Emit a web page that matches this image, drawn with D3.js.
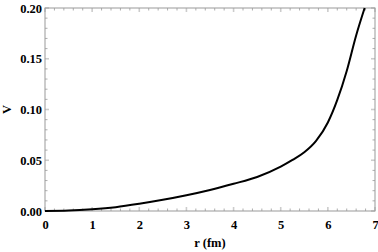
<!DOCTYPE html>
<html>
<head>
<meta charset="utf-8">
<script src="https://cdn.jsdelivr.net/npm/d3@7"></script>
<style>
  body { margin: 0; background: #fff; }
</style>
</head>
<body>
<div id="chart"></div>
<script>
// potential curve
var rValues = [0, 0.5, 1.0, 1.5, 2.0, 2.5, 3.0, 3.5, 4.0, 4.5, 5.0, 5.25, 5.5, 5.75, 6.0, 6.2, 6.4, 6.6, 6.78];
var vValues = [0, 0.0004, 0.0017, 0.0038, 0.0071, 0.0110, 0.0155, 0.0207, 0.0268, 0.0335, 0.0437, 0.0503, 0.0578, 0.0690, 0.0872, 0.1094, 0.1380, 0.1730, 0.2000];
var xTicks = [0, 1, 2, 3, 4, 5, 6, 7];
var yTicks = [0, 0.05, 0.10, 0.15, 0.20];

var FONT = "Liberation Serif";

var margin = { top: 8, right: 3, bottom: 41, left: 45 },
    width = 378 - margin.left - margin.right,
    height = 252 - margin.top - margin.bottom;

var x = d3.scaleLinear().domain([0, 7]).range([0, width]);
var y = d3.scaleLinear().domain([0, 0.20]).range([height, 0]);

var svg = d3.select("#chart").append("svg")
    .attr("width", 378)
    .attr("height", 252)
    .append("g")
    .attr("transform", "translate(" + margin.left + "," + margin.top + ")");

var data = rValues.map(function (r, i) { return { r: r, v: vValues[i] }; });

// minor ticks (every 0.2 on x, 0.01 on y), on all four sides
var xMinor = d3.range(0, 35).map(function (i) { return i * 0.2; }).filter(function (d) { return Math.abs(d - Math.round(d)) > 1e-6; });
var yMinor = d3.range(0, 20).map(function (i) { return i * 0.01; }).filter(function (d) { return Math.abs(d / 0.05 - Math.round(d / 0.05)) > 1e-6; });

function tickSet(cls, vals, isX, len, color, w) {
    var g = svg.append("g").attr("class", cls);
    [0, 1].forEach(function (side) {
        g.selectAll(".s" + side)
            .data(vals)
            .enter().append("line")
            .attr("x1", function (d) { return isX ? x(d) : (side ? width : 0); })
            .attr("x2", function (d) { return isX ? x(d) : (side ? width - len : len); })
            .attr("y1", function (d) { return isX ? (side ? 0 : height) : y(d); })
            .attr("y2", function (d) { return isX ? (side ? len : height - len) : y(d); })
            .style("stroke", color)
            .style("stroke-width", w);
    });
}

tickSet("xminor", xMinor, true, 2.5, "#999", 0.8);
tickSet("yminor", yMinor, false, 2.5, "#999", 0.8);
tickSet("xmajor", xTicks, true, 4, "#ccc", 1.6);
tickSet("ymajor", yTicks, false, 4, "#ccc", 1.6);

// frame
svg.append("rect")
    .attr("width", width)
    .attr("height", height)
    .style("fill", "none")
    .style("stroke", "#999")
    .style("stroke-width", 1);

// tick labels via axes, with the tick lines hidden
var xAxis = svg.append("g")
    .attr("transform", "translate(0," + height + ")")
    .call(d3.axisBottom(x).tickValues(xTicks).tickFormat(d3.format("d")).tickSize(0).tickPadding(9));
var yAxis = svg.append("g")
    .call(d3.axisLeft(y).tickValues(yTicks).tickFormat(d3.format(".2f")).tickSize(0).tickPadding(3));
[xAxis, yAxis].forEach(function (a) {
    a.attr("font-family", FONT).attr("font-size", 12.5).attr("font-weight", "bold");
    a.select(".domain").remove();
    a.selectAll("text")
        .attr("font-family", FONT)
        .attr("font-weight", "bold")
        .attr("font-size", 12.5)
        .attr("fill", "#000");
});

// clip the curve to the frame
svg.append("clipPath").attr("id", "clip")
    .append("rect").attr("width", width).attr("height", height + 2).attr("y", -1);

var valueline = d3.line()
    .x(function (d) { return x(d.r); })
    .y(function (d) { return y(d.v); })
    .curve(d3.curveMonotoneX);

svg.append("path")
    .data([data])
    .attr("clip-path", "url(#clip)")
    .attr("d", valueline)
    .style("fill", "none")
    .style("stroke", "#000")
    .style("stroke-width", 2);

// axis titles
svg.append("text")
    .attr("x", width / 2)
    .attr("y", height + 36)
    .attr("text-anchor", "middle")
    .attr("font-family", FONT)
    .attr("font-weight", "bold")
    .attr("font-size", 12.5)
    .text("r (fm)");

svg.append("text")
    .attr("transform", "translate(" + (11 - margin.left) + "," + (height / 2) + ") rotate(-90)")
    .attr("text-anchor", "middle")
    .attr("font-family", FONT)
    .attr("font-weight", "bold")
    .attr("font-size", 12.5)
    .text("V");
</script>
</body>
</html>
